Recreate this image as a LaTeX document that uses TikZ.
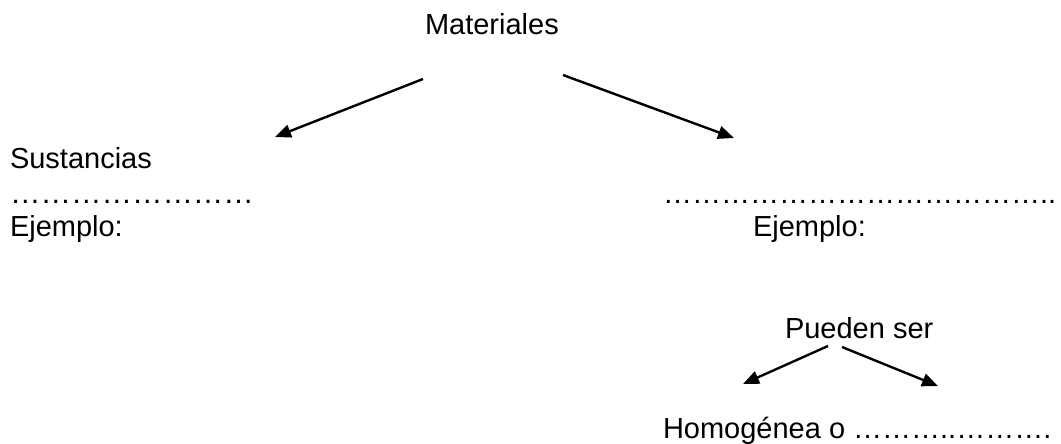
\documentclass[tikz,border=0pt]{standalone}
\usepackage{fontspec}
\setmainfont{Liberation Sans}
\usetikzlibrary{arrows.meta}
\begin{document}
\begin{tikzpicture}[x=1pt,y=-1pt,
  lbl/.style={inner sep=0pt,outer sep=0pt,anchor=base west,font=\fontsize{29}{34}\selectfont},
  dots/.style={lbl,font=\fontsize{30.5}{34}\selectfont},
  arr/.style={line width=2.4pt,-{Triangle[length=16pt,width=13pt]}}]
\useasboundingbox (0,0) rectangle (1061,444);
\node[lbl] (mat) at (425,35) {Materiales};
\node[lbl] (sus) at (10,168) {Sustancias};
\node[dots] (susdots) at (10,203) {……………………};
\node[lbl] (ej1) at (10,236) {Ejemplo:};
\node[lbl] (mezdots) at (663,203) {…………………………………..};
\node[lbl] (ej2) at (753,236) {Ejemplo:};
\node[lbl] (pue) at (785,338) {Pueden ser};
\node[lbl] (hom) at (663,438) {Homogénea o ………..……….};
\coordinate (a1s) at (423,79);
\coordinate (a1e) at (275,137);
\coordinate (a2s) at (563,75);
\coordinate (a2e) at (734,138);
\coordinate (b1s) at (828,346);
\coordinate (b1e) at (743,384);
\coordinate (b2s) at (842,347);
\coordinate (b2e) at (938,386);
\draw[arr] (a1s) -- (a1e);
\draw[arr] (a2s) -- (a2e);
\draw[arr] (b1s) -- (b1e);
\draw[arr] (b2s) -- (b2e);
\end{tikzpicture}
\end{document}
